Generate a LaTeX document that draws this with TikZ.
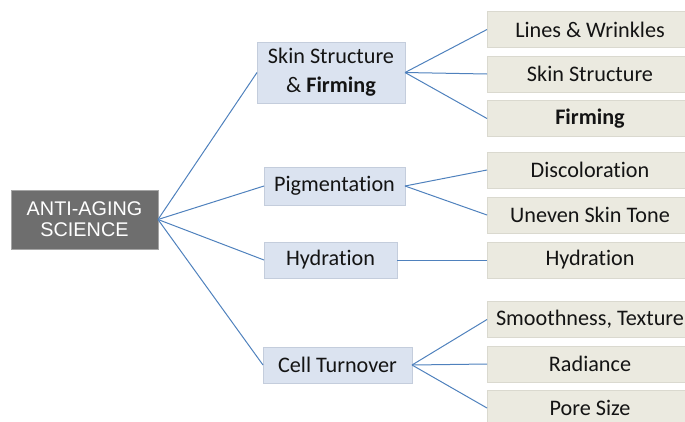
\documentclass[tikz,border=0pt]{standalone}
\usepackage{fontspec}
\setmainfont[Ligatures=NoCommon]{Carlito}
\newfontfamily\rootfont{Liberation Sans}
\definecolor{linkblue}{RGB}{79,129,189}
\definecolor{midfill}{RGB}{219,227,240}
\definecolor{midedge}{RGB}{196,205,220}
\definecolor{leaffill}{RGB}{235,234,224}
\definecolor{leafedge}{RGB}{218,217,207}
\definecolor{rootfill}{RGB}{110,110,110}
\definecolor{rootedge}{RGB}{165,165,165}
\definecolor{txt}{RGB}{20,20,20}
\begin{document}
\begin{tikzpicture}[x=1pt,y=-1pt,
  every node/.style={inner sep=0pt,outer sep=0pt},
  rootbox/.style={draw=rootedge,line width=0.8pt,fill=rootfill,text=white,minimum width=147pt,minimum height=59pt,align=center,font=\rootfont\fontsize{19.8}{21}\selectfont},
  midbox/.style={draw=midedge,line width=0.8pt,fill=midfill,text=txt,minimum height=36pt,align=center,font=\fontsize{22.2}{29}\selectfont},
  leafbox/.style={draw=leafedge,line width=0.8pt,fill=leaffill,text=txt,minimum width=206pt,minimum height=36pt,font=\fontsize{22.2}{26}\selectfont},
  link/.style={draw=linkblue,line width=1pt}]
\useasboundingbox (0,0) rectangle (685,421);
\begin{scope}
\clip (0,0) rectangle (685,421);
\node[rootbox] (root) at (84.5,219.5) {ANTI-AGING\\SCIENCE};
\node[midbox,minimum width=148pt,minimum height=61pt] (skin) at (331,72.5) {Skin Structure\\\& \textbf{Firming}};
\node[midbox,minimum width=141pt,minimum height=38pt] (pig) at (334.5,186) {Pigmentation};
\node[midbox,minimum width=133pt] (hyd) at (330.5,260) {Hydration};
\node[midbox,minimum width=149pt] (cell) at (337.5,365) {Cell Turnover};
\node[leafbox] (lw) at (590,29.5) {Lines \& Wrinkles};
\node[leafbox] (ss) at (590,74) {Skin Structure};
\node[leafbox] (fi) at (590,118.5) {\textbf{Firming}};
\node[leafbox] (di) at (590,170) {Discoloration};
\node[leafbox] (un) at (590,215) {Uneven Skin Tone};
\node[leafbox] (hy) at (590,260) {Hydration};
\node[leafbox] (sm) at (590,319.5) {Smoothness, Texture};
\node[leafbox] (ra) at (590,364) {Radiance};
\node[leafbox] (po) at (590,408) {Pore Size};
\end{scope}
\foreach \m in {skin,pig,hyd,cell} \draw[link] (root.east) -- (\m.west);
\foreach \l in {lw,ss,fi} \draw[link] (skin.east) -- (\l.west);
\foreach \l in {di,un} \draw[link] (pig.east) -- (\l.west);
\draw[link] (hyd.east) -- (hy.west);
\foreach \l in {sm,ra,po} \draw[link] (cell.east) -- (\l.west);
\end{tikzpicture}
\end{document}
